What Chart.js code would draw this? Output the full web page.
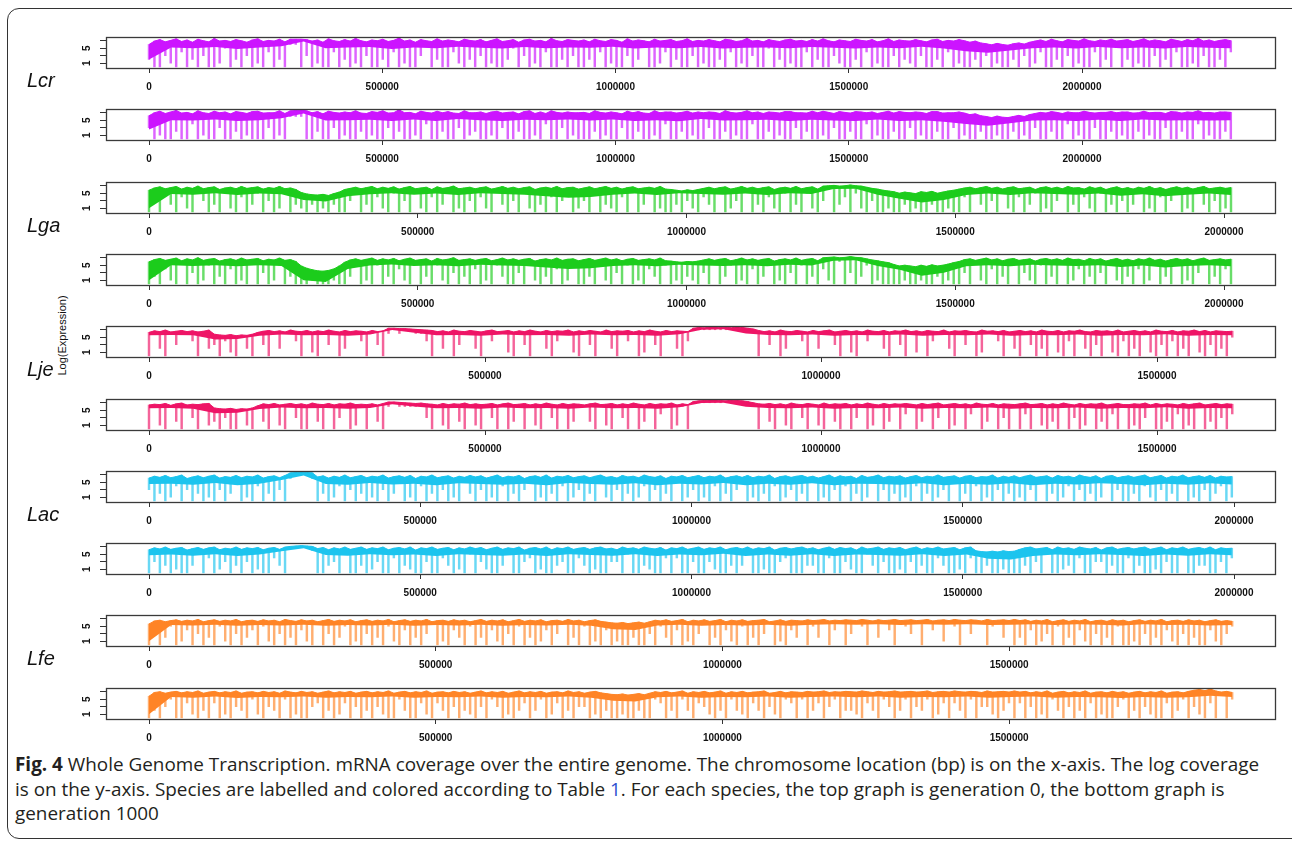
<!DOCTYPE html>
<html>
<head>
<meta charset="utf-8">
<script src="https://cdn.jsdelivr.net/npm/chart.js@4.4.0/dist/chart.umd.min.js"></script>
<style>
  body { margin: 0; background: #fff; width: 1292px; height: 841px; overflow: hidden; position: relative; font-family: "Liberation Sans", Arial, sans-serif; }
  #moldura { position: absolute; left: 7px; top: 8px; width: 1300px; height: 831px; border: 1.5px solid #333; border-radius: 12px; box-sizing: border-box; }
  canvas.painel { position: absolute; left: 40px; }
  .especie { position: absolute; left: 27px; font-style: italic; font-size: 20px; line-height: 20px; color: #111; }
  #eixoY { position: absolute; left: 12px; top: 329px; width: 100px; height: 13px; line-height: 13px; font-size: 11px; text-align: center; color: #111; transform: rotate(-90deg); }
  #legenda { position: absolute; left: 15px; top: 752px; width: 1270px; font-family: "Open Sans", sans-serif; font-size: 18.9px; line-height: 24.5px; color: #231f20; white-space: nowrap; }
  #legenda b { font-weight: 700; }
  #legenda .link { color: #2a4fd0; }
</style>
</head>
<body>
<div id="moldura"></div>
<div id="eixoY">Log(Expression)</div>
<div id="legenda">
<b>Fig. 4</b> Whole Genome Transcription. mRNA coverage over the entire genome. The chromosome location (bp) is on the x-axis. The log coverage<br>
is on the y-axis. Species are labelled and colored according to Table <span class="link">1</span>. For each species, the top graph is generation 0, the bottom graph is<br>
generation 1000
</div>

<script>
// especies e cores (Tabela 1)
const especies = ['Lcr', 'Lga', 'Lje', 'Lac', 'Lfe']
const cores = ['#cc14ff', '#1ccc1c', '#ee1466', '#1cc4ee', '#ff8426']

// tamanho do genoma (bp) lido no ponto onde a curva termina
const tamanhoGenoma = [2319000, 2013000, 1612000, 1996000, 1889000]

// rotulos do eixo x
const ticksLcr = [0, 500000, 1000000, 1500000, 2000000]
const ticksLga = [0, 500000, 1000000, 1500000, 2000000]
const ticksLje = [0, 500000, 1000000, 1500000]
const ticksLac = [0, 500000, 1000000, 1500000, 2000000]
const ticksLfe = [0, 500000, 1000000, 1500000]

// eixo y
const yTicks = [1, 3, 5, 7]
const yRotulos = ['1', '', '5', '']

// log(expressao): topo da faixa e vales (200 janelas), base da faixa (50 janelas)
const lcrGen0Topo = [
  6.0,6.9,7.3,6.7,7.1,7.5,6.8,7.2,6.6,7.4,7.0,6.7,7.6,6.9,7.1,6.8,7.3,7.0,6.6,7.2,
  7.5,6.8,7.1,6.9,7.4,6.7,7.4,7.4,7.4,7.3,6.9,7.2,6.6,7.5,7.0,6.8,7.3,6.9,7.6,7.0,
  6.7,7.2,7.0,7.4,6.8,7.1,7.7,6.9,7.2,6.6,7.3,7.0,6.8,7.5,6.9,7.2,7.0,6.7,7.4,7.1,
  6.9,7.3,6.7,7.1,7.5,6.8,7.0,7.3,6.6,7.2,7.4,6.9,7.1,6.7,7.6,7.0,6.8,7.3,7.1,6.9,
  7.2,6.7,7.4,7.0,6.8,7.3,7.1,6.6,7.5,6.9,7.2,7.0,6.7,7.4,6.9,7.1,7.3,6.8,7.0,7.5,
  6.8,7.1,6.9,7.3,7.0,6.7,7.4,7.2,6.8,7.0,7.6,6.9,7.1,6.7,7.3,7.0,6.8,7.2,7.4,6.9,
  7.1,6.8,7.3,6.9,7.5,7.0,6.7,7.2,7.0,6.8,7.4,7.1,6.9,7.3,6.7,7.0,7.5,6.8,7.2,7.0,
  6.9,7.3,7.0,6.7,7.2,7.4,6.8,7.1,6.9,7.3,7.0,6.6,6.9,6.4,6.2,5.9,6.3,6.0,5.8,6.2,
  6.4,6.1,6.6,6.9,7.2,6.8,7.4,7.0,6.7,7.3,7.1,6.9,7.5,7.0,6.8,7.2,7.0,7.4,6.9,7.1,
  7.3,6.8,7.1,7.5,6.9,7.2,7.0,6.7,7.4,7.1,6.8,7.3,7.0,7.6,6.9,7.2,6.8,7.1,7.3,7.0
]
const lcrGen0Base = [2.0,5.2,5.0,5.3,4.8,5.2,5.5,6.8,5.0,5.2, 5.3,4.8,5.2,5.0,5.4,5.1,4.9,5.3,5.0,5.2, 5.1,5.4,4.9,5.2,5.0,5.3,4.9,5.1,5.2,5.0, 5.3,5.1,4.9,5.2,5.0,5.4,4.9,4.2,3.8,4.4, 5.0,5.2,4.9,5.3,5.0,5.2,4.9,5.3,5.1,5.0]
const lcrGen0Vales = [
  2,0,0,3,1,0,4,0,2,0,3,0,0,1,5,0,2,0,3,0,
  1,0,4,0,2,0,6,6,0,3,0,1,0,0,4,0,2,0,1,0,
  3,0,0,2,0,4,0,1,0,0,3,6,0,2,0,0,4,1,0,2,
  0,3,0,1,0,0,2,5,0,3,0,1,0,4,0,0,2,0,3,0,
  0,2,0,4,0,1,0,0,3,0,2,6,0,0,1,4,0,2,0,0,
  3,0,1,0,0,2,0,4,0,1,0,3,0,0,5,0,2,0,1,0,
  0,4,0,2,0,0,3,1,0,0,2,0,4,0,1,0,0,3,0,2,
  1,0,3,0,0,2,0,4,0,1,0,0,2,0,3,0,1,0,0,2,
  0,3,0,1,4,0,0,2,0,3,0,1,0,0,4,0,2,0,6,0,
  2,0,1,0,0,3,0,2,0,4,0,0,1,0,3,0,0,2,0,4
]
const lcrGen1000Topo = [
  6.2,7.0,7.4,6.8,7.2,7.6,6.9,7.1,6.7,7.5,7.0,6.8,7.4,7.0,7.2,6.7,7.3,7.1,6.8,7.3,
  7.4,6.9,7.0,7.0,7.5,6.8,7.5,7.6,7.7,7.5,7.0,7.3,6.7,7.4,7.1,6.9,7.2,7.0,7.5,6.9,
  6.8,7.3,7.1,7.5,6.9,7.0,7.8,7.0,7.1,6.7,7.4,7.1,6.9,7.4,7.0,7.3,6.9,6.8,7.5,7.0,
  7.0,7.2,6.8,7.2,7.4,6.9,7.1,7.2,6.7,7.3,7.5,6.8,7.2,6.8,7.5,7.1,6.9,7.2,7.0,7.0,
  7.1,6.8,7.5,7.1,6.9,7.2,7.0,6.7,7.4,7.0,7.3,6.9,6.8,7.5,7.0,7.2,7.2,6.9,7.1,7.4,
  6.9,7.2,7.0,7.2,7.1,6.8,7.5,7.1,6.9,7.1,7.5,7.0,7.2,6.8,7.2,7.1,6.9,7.3,7.3,7.0,
  7.0,6.9,7.4,7.0,7.4,7.1,6.8,7.3,7.1,6.9,7.3,7.2,7.0,7.2,6.8,7.1,7.4,6.9,7.3,7.1,
  7.0,7.2,7.1,6.8,7.3,7.3,6.9,7.0,7.0,7.2,6.9,6.5,6.7,6.2,6.0,5.7,6.1,5.8,5.7,6.0,
  6.3,6.0,6.5,6.8,7.1,6.9,7.3,7.1,6.8,7.2,7.0,7.0,7.4,7.1,6.9,7.1,7.1,7.3,7.0,7.2,
  7.2,6.9,7.0,7.4,7.0,7.1,7.1,6.8,7.3,7.2,6.9,7.2,7.1,7.5,7.0,7.1,6.9,7.2,7.2,7.1
]
const lcrGen1000Base = [2.5,5.0,4.9,5.2,4.8,5.0,5.5,6.8,4.9,5.0, 5.1,4.8,5.2,4.8,5.3,5.0,4.8,5.1,5.0,5.2, 4.9,5.2,4.8,5.0,4.7,5.3,4.9,5.0,5.1,4.8, 5.1,4.9,4.8,5.2,4.8,5.0,4.6,4.0,3.5,4.2, 4.9,5.0,4.8,5.1,4.8,5.2,4.9,5.0,4.9,5.0]
const lcrGen1000Vales = [
  3,0,1,0,0,2,0,0,4,0,1,0,0,3,0,0,2,0,1,0,
  0,0,3,0,1,0,6,6,6,0,0,2,0,0,3,0,1,0,0,2,
  0,1,0,0,3,0,2,0,0,1,0,4,0,0,2,0,0,3,0,1,
  2,0,0,1,0,3,0,0,2,0,0,1,0,4,0,0,3,0,1,0,
  0,0,2,0,1,0,0,3,0,0,2,0,0,1,0,4,0,0,2,0,
  1,0,0,3,0,0,2,0,1,0,0,4,0,0,2,0,1,0,0,3,
  0,2,0,0,1,0,3,0,0,2,0,0,4,0,1,0,0,2,0,0,
  3,0,1,0,0,2,0,0,3,0,1,0,0,2,0,0,1,0,0,2,
  0,1,0,3,0,0,2,0,0,4,0,1,0,0,3,0,0,2,0,1,
  0,0,2,0,1,0,0,3,0,0,2,0,0,4,0,1,0,0,2,0
]
const lgaGen0Topo = [
  5.8,6.4,6.7,6.2,6.5,6.8,6.1,6.6,6.3,6.9,6.2,6.5,6.7,6.0,6.4,6.6,6.2,6.8,6.3,6.5,
  6.7,6.1,6.5,6.3,6.8,6.2,6.4,6.0,5.2,4.8,4.6,4.5,4.7,4.4,4.9,5.3,6.0,6.3,6.6,6.2,
  6.5,6.8,6.2,6.6,6.3,6.7,6.1,6.5,6.8,6.2,6.4,6.6,6.0,6.7,6.3,6.5,6.9,6.2,6.4,6.6,
  6.2,6.5,6.7,6.1,6.4,6.8,6.3,6.6,6.2,6.5,6.7,6.0,6.4,6.6,6.3,6.8,6.2,6.5,6.6,6.1,
  6.4,6.7,6.2,6.5,6.8,6.3,6.6,6.1,6.5,6.7,6.2,6.4,6.6,6.3,6.8,6.1,6.0,5.8,5.6,5.9,
  5.7,6.0,6.3,6.6,6.2,6.5,6.7,6.1,6.4,6.8,6.3,6.6,6.2,6.5,6.7,6.0,6.4,6.6,6.3,6.8,
  6.2,6.5,6.7,6.1,6.9,7.0,7.1,6.9,7.0,7.2,7.0,6.9,6.6,6.3,6.1,5.8,5.6,5.4,5.0,5.3,
  5.1,4.9,5.4,5.2,5.5,5.0,5.3,5.6,5.8,6.1,6.4,6.6,6.2,6.5,6.8,6.3,6.6,6.1,6.5,6.7,
  6.2,6.4,6.6,6.0,6.5,6.7,6.3,6.6,6.2,6.8,6.4,6.5,6.1,6.7,6.3,6.6,6.0,6.4,6.7,6.2,
  6.5,6.1,6.6,6.3,6.8,6.2,6.5,6.0,6.4,6.7,6.3,6.6,6.1,6.5,6.8,6.2,6.4,6.6,6.3,6.5
]
const lgaGen0Base = [1.0,4.8,4.6,5.0,4.5,4.9,4.7,3.2,2.8,4.2, 4.7,5.0,4.6,4.9,4.5,5.0,4.8,4.6,4.2,3.8, 4.0,4.6,4.9,4.5,5.0,4.8,4.6,4.9,4.5,5.0, 4.8,6.1,6.2,4.6,3.5,2.5,3.2,4.5,4.9,4.5, 5.0,4.8,4.6,4.9,4.3,4.7,4.2,4.6,4.9,4.5]
const lgaGen0Vales = [
  0,3,0,5,2,0,4,1,0,6,3,0,2,0,5,1,0,4,0,2,
  5,0,3,0,1,6,0,2,1,0,2,0,1,0,2,0,0,3,5,0,
  2,0,4,1,0,5,0,3,0,6,1,0,4,0,2,5,0,1,0,3,
  0,4,1,0,6,2,0,3,0,5,1,0,2,0,4,0,3,6,0,1,
  3,0,5,0,2,1,0,4,0,6,0,2,5,0,1,0,0,2,0,3,
  1,0,4,2,0,5,0,1,3,0,6,0,2,0,4,1,0,5,0,2,
  0,5,1,0,3,6,0,2,4,0,5,1,0,3,0,0,1,0,0,2,
  0,1,0,0,2,0,0,1,0,0,4,0,5,2,0,3,0,6,1,0,
  4,0,2,5,0,1,0,3,6,0,2,0,4,1,0,5,0,2,0,3,
  0,2,5,0,1,0,4,0,3,6,0,1,0,5,2,0,3,0,1,0
]
const lgaGen1000Topo = [
  5.9,6.5,6.8,6.3,6.6,6.9,6.2,6.7,6.4,7.0,6.3,6.6,6.8,6.1,6.5,6.7,6.3,6.9,6.4,6.6,
  6.8,6.2,6.6,6.4,6.9,6.3,6.5,6.0,4.8,4.2,3.8,3.5,3.4,3.6,4.0,4.8,5.8,6.4,6.7,6.3,
  6.6,6.9,6.3,6.7,6.4,6.8,6.2,6.6,6.9,6.3,6.5,6.7,6.1,6.8,6.4,6.6,7.0,6.3,6.5,6.7,
  6.3,6.6,6.8,6.2,6.5,6.9,6.4,6.7,6.3,6.6,6.8,6.1,6.5,6.7,6.4,6.9,6.3,6.6,6.7,6.2,
  6.5,6.8,6.3,6.6,6.9,6.4,6.7,6.2,6.6,6.8,6.3,6.5,6.7,6.4,6.9,6.2,6.1,5.9,5.8,6.0,
  5.9,6.1,6.4,6.7,6.3,6.6,6.8,6.2,6.5,6.9,6.4,6.7,6.3,6.6,6.8,6.1,6.5,6.7,6.4,6.9,
  6.3,6.6,6.8,6.2,7.0,7.1,7.2,7.0,7.1,7.3,7.1,7.0,6.7,6.4,6.2,5.9,5.7,5.2,4.8,5.0,
  4.8,4.6,5.0,4.7,5.1,4.8,5.0,5.3,5.7,6.0,6.5,6.7,6.3,6.6,6.9,6.4,6.7,6.2,6.6,6.8,
  6.3,6.5,6.7,6.1,6.6,6.8,6.4,6.7,6.3,6.9,6.5,6.6,6.2,6.8,6.4,6.7,6.1,6.5,6.8,6.3,
  6.6,6.2,6.7,6.4,6.9,6.3,6.6,6.1,6.5,6.8,6.4,6.7,6.2,6.6,6.9,6.3,6.5,6.7,6.4,6.6
]
const lgaGen1000Base = [1.0,5.0,4.8,5.0,4.7,5.0,4.8,1.0,0.5,4.0, 4.9,5.2,4.8,5.0,4.7,5.1,4.9,4.8,4.4,4.0, 4.2,4.8,5.0,4.7,5.1,4.9,4.8,5.0,4.7,5.1, 4.9,6.2,6.3,4.8,3.8,2.2,3.0,4.7,5.0,4.7, 5.1,4.9,4.8,5.0,4.5,4.9,4.4,4.8,5.0,4.7]
const lgaGen1000Vales = [
  0,2,0,4,1,0,6,0,3,0,1,5,0,2,0,4,0,1,0,6,
  0,3,0,1,5,0,2,0,0,0,1,0,0,0,1,0,0,2,6,0,
  1,0,5,0,2,0,4,1,0,6,0,2,0,5,1,0,3,0,2,0,
  4,0,1,0,5,2,0,0,3,0,6,1,0,2,0,4,0,1,5,0,
  0,2,0,6,1,0,3,0,5,0,1,0,4,2,0,5,0,1,0,2,
  1,0,3,0,6,0,2,5,0,1,0,4,0,2,6,0,1,0,3,0,
  5,0,2,0,4,1,0,6,0,3,0,2,5,0,1,0,0,0,0,1,
  0,0,1,0,0,2,0,1,0,0,3,0,6,1,0,4,0,2,0,5,
  0,3,1,0,5,0,2,0,6,0,1,4,0,2,0,3,0,5,1,0,
  2,0,4,0,1,6,0,2,0,5,0,1,0,3,6,0,2,0,4,0
]
const ljeGen0Topo = [
  6.3,6.7,6.5,6.9,6.4,6.6,6.8,6.5,6.7,6.4,6.6,6.9,5.8,5.6,5.5,5.7,5.4,5.6,5.5,5.8,
  6.3,6.6,6.8,6.5,6.7,6.4,6.9,6.6,6.5,6.8,6.4,6.7,6.5,6.9,6.6,6.4,6.8,6.5,6.7,6.6,
  6.4,6.8,6.5,6.7,7.4,7.4,7.3,7.3,7.2,7.1,7.0,6.9,6.8,6.5,6.7,6.4,6.9,6.6,6.5,6.8,
  6.6,6.4,6.7,6.9,6.5,6.6,6.8,6.4,6.7,6.5,6.9,6.6,6.4,6.8,6.5,6.7,6.6,6.9,6.4,6.7,
  6.5,6.8,6.6,6.4,6.9,6.5,6.7,6.6,6.8,6.4,6.7,6.5,6.9,6.6,6.4,6.8,6.5,6.7,6.6,6.5,
  7.4,7.6,7.5,7.7,7.8,7.6,7.7,7.5,7.8,7.6,7.4,7.2,6.8,6.5,6.7,6.4,6.9,6.6,6.5,6.8,
  6.6,6.4,6.8,6.5,6.7,6.9,6.4,6.6,6.8,6.5,6.7,6.4,6.9,6.6,6.5,6.8,6.4,6.7,6.6,6.9,
  6.5,6.7,6.4,6.8,6.6,6.5,6.9,6.4,6.7,6.6,6.8,6.5,6.4,6.9,6.6,6.7,6.5,6.8,6.4,6.6,
  6.8,6.5,6.7,6.4,6.9,6.6,6.5,6.8,6.4,6.7,6.6,6.9,6.5,6.4,6.8,6.6,6.7,6.5,6.9,6.4,
  6.6,6.8,6.5,6.7,6.4,6.9,6.6,6.5,6.8,6.4,6.7,6.6,6.9,6.5,6.8,6.4,6.7,6.6,6.5,6.6
]
const ljeGen0Base = [5.5,5.6,5.5,4.4,4.5,5.4,5.7,5.5,5.6,5.4, 5.7,6.9,6.2,5.5,5.6,5.4,5.7,5.5,5.6,5.4, 5.7,5.5,5.6,5.4,5.8,7.0,7.1,6.0,5.6,5.5, 5.7,5.4,5.6,5.5,5.7,5.4,5.6,5.5,5.7,5.4, 5.6,5.5,5.7,5.4,5.6,5.5,5.8,5.4,5.6,5.5]
const ljeGen0Vales = [
  0,6,2,0,6,3,6,6,4,0,6,2,3,0,4,1,0,5,2,0,
  6,3,0,6,2,6,6,4,0,6,1,0,6,3,6,0,2,6,6,4,
  0,6,3,0,6,7,6,7,7,6,6,4,0,6,2,6,0,3,6,6,
  2,0,6,4,6,6,1,0,6,3,0,6,6,2,0,4,6,6,1,0,
  6,3,0,6,6,2,0,6,4,6,0,1,6,3,0,6,6,2,0,4,
  7,7,7,7,7,7,7,7,7,7,7,7,0,6,3,6,0,2,6,6,
  4,0,6,2,6,6,3,0,6,1,0,6,4,6,6,2,0,6,3,0,
  6,1,6,0,4,6,6,2,0,6,3,6,0,1,6,6,4,0,6,2,
  0,6,3,0,2,0,6,1,0,4,0,6,2,0,3,0,6,1,0,4,
  0,2,0,6,1,0,3,0,4,0,2,0,6,1,0,3,0,2,0,5
]
const ljeGen1000Topo = [
  6.4,6.6,6.5,6.8,6.3,6.7,6.9,6.4,6.6,6.5,6.7,6.8,5.6,5.4,5.3,5.5,5.2,5.4,5.3,5.6,
  6.2,6.7,6.5,6.8,6.4,6.6,6.8,6.5,6.7,6.4,6.9,6.6,6.5,6.8,6.4,6.7,6.6,6.9,6.5,6.6,
  6.5,6.7,6.4,6.8,7.2,7.2,7.1,7.0,6.9,6.8,6.9,6.7,6.6,6.4,6.8,6.5,6.7,6.6,6.9,6.5,
  6.7,6.5,6.6,6.8,6.4,6.7,6.9,6.5,6.6,6.8,6.4,6.7,6.5,6.9,6.6,6.4,6.8,6.5,6.7,6.6,
  6.4,6.7,6.9,6.5,6.6,6.8,6.4,6.7,6.5,6.9,6.6,6.4,6.8,6.5,6.7,6.6,6.9,6.4,6.7,6.5,
  7.3,7.5,7.6,7.7,7.8,7.6,7.5,7.7,7.6,7.5,7.3,7.0,6.7,6.6,6.8,6.5,6.7,6.4,6.9,6.6,
  6.5,6.8,6.6,6.4,6.9,6.5,6.7,6.6,6.8,6.4,6.7,6.5,6.9,6.6,6.4,6.8,6.5,6.7,6.6,6.8,
  6.6,6.4,6.8,6.5,6.7,6.9,6.4,6.6,6.8,6.5,6.7,6.4,6.9,6.6,6.5,6.8,6.4,6.7,6.6,6.5,
  6.7,6.9,6.5,6.6,6.8,6.4,6.7,6.5,6.9,6.6,6.4,6.8,6.5,6.7,6.6,6.9,6.4,6.6,6.8,6.5,
  6.5,6.7,6.6,6.9,6.4,6.8,6.5,6.7,6.6,6.4,6.8,6.5,6.7,6.9,6.4,6.6,6.8,6.5,6.7,6.6
]
const ljeGen1000Base = [5.5,5.6,5.4,4.2,4.3,5.3,5.7,5.5,5.6,5.4, 5.6,6.6,6.0,5.5,5.6,5.4,5.7,5.5,5.6,5.4, 5.7,5.5,5.6,5.4,5.8,6.9,7.0,5.9,5.6,5.5, 5.7,5.4,5.6,5.5,5.7,5.4,5.6,5.5,5.7,5.4, 5.6,5.5,5.7,5.4,5.6,5.5,5.8,5.4,5.6,5.5]
const ljeGen1000Vales = [
  0,6,1,0,6,2,0,6,3,0,6,1,2,0,3,0,0,5,1,0,
  6,2,0,6,1,0,6,3,0,0,6,2,0,6,0,3,6,0,1,6,
  0,6,2,0,6,7,6,6,6,6,6,3,0,6,1,0,6,2,0,6,
  1,0,6,3,0,6,0,2,6,0,6,1,0,6,3,0,6,0,2,6,
  6,2,0,6,1,0,6,3,0,6,0,2,6,0,4,6,0,1,6,0,
  7,7,7,7,7,7,7,7,7,7,7,6,0,6,2,0,6,1,0,6,
  3,0,6,1,0,6,2,0,6,0,3,6,0,1,6,0,2,6,0,4,
  6,0,2,6,0,3,6,0,1,6,0,4,6,0,2,6,0,3,0,6,
  0,4,0,6,1,0,2,0,6,0,3,0,1,6,0,2,0,4,0,6,
  0,1,0,3,6,0,0,2,0,4,0,1,0,6,0,2,0,3,0,4
]
const lacGen0Topo = [
  6.1,6.6,6.3,6.8,6.2,6.5,6.9,6.0,6.4,6.7,6.2,6.6,6.9,6.1,6.5,6.3,6.8,6.2,6.6,6.4,
  6.9,6.1,6.5,6.7,6.2,6.8,7.5,7.6,7.7,7.6,7.5,6.4,6.7,6.1,6.6,6.3,6.9,6.2,6.5,6.8,
  6.2,6.6,6.4,6.9,6.1,6.5,6.7,6.3,6.8,6.0,6.6,6.4,6.9,6.2,6.5,6.7,6.1,6.6,6.3,6.8,
  6.4,6.7,6.1,6.5,6.9,6.2,6.6,6.4,6.8,6.0,6.5,6.7,6.3,6.9,6.1,6.6,6.4,6.8,6.2,6.5,
  6.7,6.2,6.6,6.9,6.3,6.5,6.1,6.8,6.4,6.6,6.2,6.9,6.5,6.3,6.7,6.0,6.6,6.4,6.8,6.2,
  6.5,6.8,6.2,6.6,6.4,6.9,6.1,6.5,6.7,6.3,6.8,6.2,6.6,6.4,6.9,6.0,6.5,6.7,6.3,6.6,
  6.8,6.3,6.6,6.1,6.5,6.9,6.2,6.7,6.4,6.6,6.0,6.8,6.3,6.5,6.9,6.2,6.6,6.4,6.7,6.1,
  6.5,6.8,6.2,6.6,6.4,6.9,6.3,6.5,6.7,6.1,6.6,6.8,6.2,6.5,6.4,6.9,6.1,6.6,6.3,6.7,
  6.2,6.6,6.9,6.3,6.5,6.7,6.1,6.8,6.4,6.6,6.2,6.9,6.5,6.3,6.7,6.0,6.6,6.8,6.2,6.5,
  6.7,6.3,6.6,6.9,6.2,6.5,6.8,6.1,6.6,6.4,6.9,6.2,6.5,6.7,6.3,6.8,6.1,6.6,6.4,6.5
]
const lacGen0Base = [4.5,4.6,4.3,4.8,4.2,4.6,5.6,6.8,4.5,4.3, 4.8,4.4,4.6,4.2,4.7,4.5,4.3,4.6,4.2,4.8, 4.5,4.3,4.7,4.2,4.6,4.4,4.8,4.2,4.6,4.3, 4.7,4.2,4.6,4.5,4.3,4.7,4.2,4.6,4.3,4.7, 4.2,4.6,4.4,4.7,4.5,4.2,4.6,4.3,4.7,4.4]
const lacGen0Vales = [
  3,0,2,0,1,4,0,3,0,2,0,1,0,3,0,2,5,0,1,0,
  4,0,2,0,3,0,6,7,7,7,6,0,2,0,1,4,0,3,0,2,
  0,1,0,3,0,2,5,0,1,0,4,0,2,0,3,0,1,0,5,2,
  0,3,0,1,0,4,0,2,0,3,5,0,1,0,2,0,4,0,1,3,
  0,2,0,5,1,0,3,0,2,0,1,4,0,3,0,2,0,5,0,1,
  3,0,1,0,4,0,2,0,3,5,0,1,0,2,0,4,0,1,3,0,
  2,0,5,0,1,0,3,0,4,0,2,0,1,5,0,3,0,2,0,1,
  0,4,0,2,0,1,3,0,5,0,2,0,4,0,1,0,3,0,2,0,
  1,0,3,0,5,0,2,0,1,4,0,3,0,2,0,1,5,0,3,0,
  0,2,0,4,1,0,3,0,2,0,5,0,1,0,3,0,2,4,0,1
]
const lacGen1000Topo = [
  6.2,6.7,6.4,6.9,6.3,6.6,6.8,6.1,6.5,6.8,6.3,6.7,6.9,6.2,6.6,6.4,6.9,6.3,6.7,6.5,
  6.8,6.2,6.6,6.8,6.3,6.9,7.1,7.2,7.3,7.2,7.1,6.5,6.8,6.2,6.7,6.4,6.9,6.3,6.6,6.9,
  6.3,6.7,6.5,6.9,6.2,6.6,6.8,6.4,6.9,6.1,6.7,6.5,6.9,6.3,6.6,6.8,6.2,6.7,6.4,6.9,
  6.5,6.8,6.2,6.6,6.9,6.3,6.7,6.5,6.9,6.1,6.6,6.8,6.4,6.9,6.2,6.7,6.5,6.9,6.3,6.6,
  6.8,6.3,6.7,6.9,6.4,6.6,6.2,6.9,6.5,6.7,6.3,6.9,6.6,6.4,6.8,6.1,6.7,6.5,6.9,6.3,
  6.6,6.9,6.3,6.7,6.5,6.9,6.2,6.6,6.8,6.4,6.9,6.3,6.7,6.5,6.9,6.1,6.6,6.8,6.4,6.7,
  6.9,6.4,6.7,6.2,6.6,6.9,6.3,6.8,6.5,6.7,6.1,6.9,6.4,6.6,6.9,6.3,6.7,6.5,6.8,6.2,
  6.6,6.9,6.3,6.7,6.5,6.9,6.4,6.6,6.8,6.2,6.7,6.9,5.9,5.7,5.6,5.8,5.6,5.9,5.7,5.8,
  6.3,6.7,6.9,6.4,6.6,6.8,6.2,6.9,6.5,6.7,6.3,6.9,6.6,6.4,6.8,6.1,6.7,6.9,6.3,6.6,
  6.8,6.4,6.7,6.9,6.3,6.6,6.9,6.2,6.7,6.5,6.9,6.3,6.6,6.8,6.4,6.9,6.2,6.7,6.5,6.6
]
const lacGen1000Base = [4.7,4.9,4.6,5.0,4.5,4.9,5.8,6.6,4.8,4.6, 5.0,4.7,4.9,4.5,5.0,4.8,4.6,4.9,4.5,5.0, 4.8,4.6,5.0,4.5,4.9,4.7,5.1,4.5,4.9,4.6, 5.0,4.5,4.9,4.8,4.6,5.0,4.5,4.9,3.8,3.6, 4.5,4.9,4.7,5.0,4.8,4.5,4.9,4.6,5.0,4.7]
const lacGen1000Vales = [
  0,3,0,2,0,1,0,0,2,5,0,4,0,1,3,0,2,0,3,0,
  1,0,0,4,2,0,7,7,7,7,6,0,0,2,3,0,5,0,0,2,
  0,1,3,0,0,4,0,2,1,0,0,3,0,0,4,2,0,1,0,5,
  0,3,1,0,0,2,5,0,0,3,4,0,1,0,0,2,3,0,0,4,
  2,0,1,0,0,3,3,0,5,0,0,2,1,0,0,4,0,4,0,0,
  3,0,0,3,1,0,0,2,0,2,5,0,0,1,0,0,3,4,0,0,
  0,2,2,0,0,4,0,0,3,1,0,0,5,2,0,3,0,0,1,0,
  3,0,2,0,0,4,2,0,0,1,0,4,0,0,2,0,0,1,0,0,
  0,2,0,3,0,5,0,0,1,2,0,4,0,0,3,3,0,2,0,0,
  4,0,2,0,0,1,0,3,0,0,5,0,0,2,2,0,0,3,0,4
]
const lfeGen0Topo = [
  5.6,6.4,6.6,6.2,6.5,6.7,6.3,6.6,6.4,6.8,6.2,6.5,6.7,6.3,6.6,6.4,6.8,6.2,6.5,6.6,
  6.3,6.7,6.4,6.6,6.2,6.8,6.5,6.3,6.7,6.4,6.6,6.2,6.5,6.8,6.3,6.6,6.4,6.7,6.2,6.5,
  6.7,6.3,6.6,6.4,6.8,6.2,6.5,6.7,6.3,6.6,6.4,6.8,6.2,6.5,6.6,6.3,6.7,6.4,6.6,6.2,
  6.5,6.8,6.3,6.6,6.4,6.7,6.2,6.5,6.8,6.3,6.6,6.4,6.7,6.2,6.5,6.6,6.3,6.8,6.4,6.6,
  6.2,6.5,6.7,6.3,6.1,5.9,5.8,6.0,5.7,5.9,6.1,5.8,6.2,6.6,6.4,6.7,6.3,6.5,6.8,6.2,
  6.6,6.4,6.7,6.3,6.5,6.8,6.2,6.6,6.4,6.7,6.3,6.5,6.6,6.8,6.2,6.4,6.7,6.3,6.6,6.5,
  6.4,6.7,6.5,6.6,6.8,6.4,6.6,6.5,6.7,6.6,6.5,6.8,6.6,6.4,6.7,6.5,6.6,6.8,6.5,6.6,
  6.7,6.5,6.6,6.8,6.4,6.6,6.7,6.5,6.8,6.6,6.5,6.7,6.6,6.4,6.8,6.5,6.6,6.7,6.5,6.8,
  6.5,6.7,6.3,6.6,6.4,6.8,6.2,6.5,6.7,6.3,6.6,6.4,6.8,6.2,6.5,6.6,6.3,6.7,6.4,6.6,
  6.2,6.5,6.7,6.3,6.6,6.4,6.8,6.2,6.5,6.6,6.3,6.7,6.4,6.6,6.2,6.5,6.7,6.3,6.5,6.3
]
const lfeGen0Base = [1.0,5.3,5.2,5.4,5.1,5.3,5.2,5.4,5.1,5.3, 5.2,5.4,5.1,5.3,5.2,5.4,5.1,5.3,5.2,5.4, 5.1,4.2,4.0,5.2,5.4,5.1,5.3,5.2,5.4,5.1, 5.4,5.5,5.4,5.5,5.3,5.5,5.4,5.5,5.3,5.4, 5.5,5.3,5.5,5.4,5.2,5.5,5.3,5.4,5.2,5.3]
const lfeGen0Vales = [
  0,3,0,2,5,0,1,4,0,3,0,2,0,5,1,0,3,0,2,4,
  0,5,1,0,3,0,2,0,4,1,0,6,0,3,0,2,5,0,1,0,
  3,0,2,0,5,1,0,4,0,2,0,3,6,0,1,0,4,2,0,5,
  0,2,0,4,1,0,3,0,5,0,2,0,1,4,0,3,6,0,2,0,
  5,0,1,0,4,0,1,0,0,2,0,0,3,0,5,2,0,4,0,1,
  0,3,6,0,2,0,4,1,0,5,0,2,0,3,6,0,1,0,4,2,
  6,0,5,2,6,0,4,6,0,3,6,5,0,6,2,6,4,0,6,5,
  3,6,0,6,4,6,1,6,5,0,6,3,6,6,0,5,6,2,6,0,
  2,0,4,0,1,3,0,5,0,2,0,4,1,0,3,0,2,0,5,0,
  0,1,0,3,0,2,0,4,1,0,3,0,2,0,0,4,1,0,3,5
]
const lfeGen1000Topo = [
  5.8,6.8,7.0,6.6,6.9,7.1,6.7,7.0,6.8,7.2,6.6,6.9,7.1,6.7,7.0,6.8,7.2,6.6,6.9,7.0,
  6.7,7.1,6.8,7.0,6.6,7.2,6.9,6.7,7.1,6.8,7.0,6.6,6.9,7.2,6.7,7.0,6.8,7.1,6.6,6.9,
  7.1,6.7,7.0,6.8,7.2,6.6,6.9,7.1,6.7,7.0,6.8,7.2,6.6,6.9,7.0,6.7,7.1,6.8,7.0,6.6,
  6.9,7.2,6.7,7.0,6.8,7.1,6.6,6.9,7.2,6.7,7.0,6.8,7.1,6.6,6.9,7.0,6.7,7.2,6.8,7.0,
  6.6,6.9,7.1,6.7,6.5,6.3,6.2,6.4,6.1,6.3,6.5,6.2,6.6,7.0,6.8,7.1,6.7,6.9,7.2,6.6,
  7.0,6.8,7.1,6.7,6.9,7.2,6.6,7.0,6.8,7.1,6.7,6.9,7.0,7.2,6.6,6.8,7.1,6.7,7.0,6.9,
  6.8,7.1,6.9,7.0,7.2,6.8,7.0,6.9,7.1,7.0,6.9,7.2,7.0,6.8,7.1,6.9,7.0,7.2,6.9,7.0,
  7.1,6.9,7.0,7.2,6.8,7.0,7.1,6.9,7.2,7.0,6.9,7.1,7.0,6.8,7.2,6.9,7.0,7.1,6.9,7.2,
  6.9,7.1,6.7,7.0,6.8,7.2,6.6,6.9,7.1,6.7,7.0,6.8,7.2,6.6,6.9,7.0,6.7,7.1,6.8,7.0,
  6.6,6.9,7.1,6.7,7.0,6.8,7.2,6.6,6.9,7.0,6.7,7.1,7.4,7.6,7.3,7.7,7.2,6.9,7.1,6.8
]
const lfeGen1000Base = [1.0,5.6,5.4,5.7,5.3,5.6,5.5,5.7,5.4,5.6, 5.5,5.7,5.4,5.6,5.5,5.7,5.4,5.6,5.5,5.7, 5.4,4.6,4.4,5.5,5.7,5.4,5.6,5.5,5.7,5.4, 5.6,5.7,5.5,5.7,5.4,5.6,5.5,5.7,5.4,5.6, 5.7,5.4,5.6,5.5,5.3,5.6,5.4,5.5,5.9,5.6]
const lfeGen1000Vales = [
  0,2,0,3,5,0,0,4,1,0,2,0,4,0,1,0,3,2,0,5,
  1,0,3,2,0,5,0,1,0,0,3,4,0,2,0,1,4,0,3,0,
  2,0,3,1,0,0,5,2,0,0,4,1,0,4,2,0,3,0,2,1,
  0,3,0,5,3,0,1,0,2,4,0,2,5,0,1,4,0,2,0,3,
  3,0,1,0,2,0,0,1,0,0,2,0,0,5,4,0,2,0,5,2,
  0,4,3,1,0,2,0,5,2,1,0,4,2,0,3,1,0,5,4,0,
  5,0,2,4,0,3,5,0,2,2,1,0,4,2,0,5,3,0,2,5,
  0,3,2,5,0,1,4,0,4,2,0,5,0,3,3,1,0,2,4,0,
  4,0,3,0,1,0,5,2,0,3,0,2,0,4,0,1,0,0,3,5,
  0,2,0,3,1,0,0,4,0,2,5,0,3,1,0,4,0,6,0,5
]

const paineis = [
  { especie: 0, topo: lcrGen0Topo, base: lcrGen0Base, vales: lcrGen0Vales, ticks: ticksLcr },
  { especie: 0, topo: lcrGen1000Topo, base: lcrGen1000Base, vales: lcrGen1000Vales, ticks: ticksLcr },
  { especie: 1, topo: lgaGen0Topo, base: lgaGen0Base, vales: lgaGen0Vales, ticks: ticksLga },
  { especie: 1, topo: lgaGen1000Topo, base: lgaGen1000Base, vales: lgaGen1000Vales, ticks: ticksLga },
  { especie: 2, topo: ljeGen0Topo, base: ljeGen0Base, vales: ljeGen0Vales, ticks: ticksLje },
  { especie: 2, topo: ljeGen1000Topo, base: ljeGen1000Base, vales: ljeGen1000Vales, ticks: ticksLje },
  { especie: 3, topo: lacGen0Topo, base: lacGen0Base, vales: lacGen0Vales, ticks: ticksLac },
  { especie: 3, topo: lacGen1000Topo, base: lacGen1000Base, vales: lacGen1000Vales, ticks: ticksLac },
  { especie: 4, topo: lfeGen0Topo, base: lfeGen0Base, vales: lfeGen0Vales, ticks: ticksLfe },
  { especie: 4, topo: lfeGen1000Topo, base: lfeGen1000Base, vales: lfeGen1000Vales, ticks: ticksLfe }
]

// layout: pixels por 500000 bp em cada especie (igual ao original)
const pxPorMeioMilhao = [233.25, 268.75, 336, 271.25, 286.7]
const xZero = 149, caixaEsq = 106, caixaDir = 1275
const topoPrimeiro = 25, distPaineis = 72.3, alturaCaixa = 43
const fonte = '"Liberation Sans", Arial, sans-serif'

const caixa = {
  id: 'caixa',
  afterDraw(chart) {
    const { ctx, chartArea: a } = chart
    ctx.save()
    ctx.strokeStyle = '#3a3a3a'
    ctx.lineWidth = 1.3
    ctx.strokeRect(Math.round(a.left) + 0.5, Math.round(a.top) + 0.5, Math.round(a.right - a.left), Math.round(a.bottom - a.top))
    ctx.restore()
  }
}

paineis.forEach((p, k) => {
  const esc = pxPorMeioMilhao[p.especie] / 500000
  const minX = -(xZero - caixaEsq) / esc
  const maxX = (caixaDir - xZero) / esc
  const L = tamanhoGenoma[p.especie]
  const cor = cores[p.especie]
  const nT = p.topo.length, nB = p.base.length
  const ptsTopo = p.topo.map((v, i) => ({ x: i * L / (nT - 1), y: v }))
  const ptsBase = p.base.map((v, i) => ({ x: i * L / (nB - 1), y: v }))
  const ptsVales = p.vales.map((v, j) => ({ x: j * L / (p.vales.length - 1), y: [v, p.topo[j]] }))

  const topo = Math.round(topoPrimeiro + k * distPaineis)
  const canvas = document.createElement('canvas')
  canvas.className = 'painel'
  canvas.width = 1250
  canvas.height = 77
  canvas.style.top = (topo - 4) + 'px'
  document.body.appendChild(canvas)

  if (k % 2 === 0) {
    const rotulo = document.createElement('div')
    rotulo.className = 'especie'
    rotulo.textContent = especies[p.especie]
    rotulo.style.top = (topo + alturaCaixa + 2) + 'px'
    document.body.appendChild(rotulo)
  }

  new Chart(canvas, {
    type: 'line',
    data: {
      datasets: [
        { type: 'line', data: ptsTopo, borderColor: cor, backgroundColor: cor, borderWidth: 1, pointRadius: 0, tension: 0, fill: '+1', order: 0 },
        { type: 'line', data: ptsBase, borderColor: cor, borderWidth: 0, pointRadius: 0, tension: 0, fill: false, order: 1 },
        { type: 'bar', data: ptsVales, backgroundColor: cor + 'a8', borderWidth: 0, barThickness: 1.8, grouped: false, order: 2 }
      ]
    },
    options: {
      responsive: false,
      animation: false,
      devicePixelRatio: 1,
      layout: { padding: { top: 4, right: 15, left: 0, bottom: 0 } },
      plugins: { legend: { display: false }, tooltip: { enabled: false } },
      scales: {
        x: {
          type: 'linear',
          min: minX,
          max: maxX,
          offset: false,
          afterFit: s => { s.height = 30 },
          afterBuildTicks: s => { s.ticks = p.ticks.map(v => ({ value: v })) },
          grid: { display: true, offset: false, drawOnChartArea: false, drawTicks: true, tickLength: 5, color: '#333' },
          border: { display: false },
          ticks: {
            color: '#111', padding: 8, maxRotation: 0, autoSkip: false,
            font: { size: 10, weight: 'bold', family: fonte },
            callback: v => String(v)
          }
        },
        y: {
          min: -0.3,
          max: 8,
          afterFit: s => { s.width = 66 },
          afterBuildTicks: s => { s.ticks = yTicks.map(v => ({ value: v })) },
          grid: { display: true, drawOnChartArea: false, drawTicks: true, tickLength: 6, color: '#333' },
          border: { display: false },
          ticks: {
            color: '#111', padding: 10, minRotation: 90, maxRotation: 90, crossAlign: 'center',
            font: { size: 10, weight: 'bold', family: fonte },
            callback: v => yRotulos[yTicks.indexOf(v)]
          }
        }
      }
    },
    plugins: [caixa]
  })
})
</script>
</body>
</html>
